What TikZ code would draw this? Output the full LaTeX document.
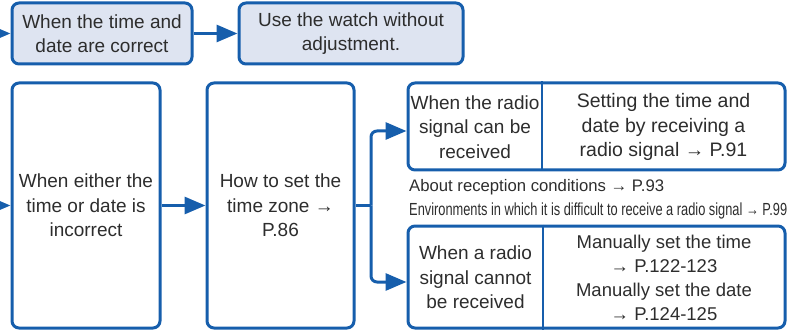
\documentclass[tikz,border=0pt]{standalone}
\usepackage{fontspec}
\setmainfont{Liberation Sans}
\usetikzlibrary{arrows.meta,calc}
\definecolor{bblue}{RGB}{22,94,172}
\definecolor{bfill}{RGB}{222,228,241}
\definecolor{txt}{RGB}{45,45,45}
\begin{document}
\begin{tikzpicture}[x=1pt,y=-1pt,
  box/.style={draw=bblue,line width=3pt,rounded corners=7pt,inner sep=0pt},
  boxtext/.style={text=txt,font=\fontsize{19}{24.5}\selectfont,align=center,inner sep=0pt},
  conn/.style={draw=bblue,line width=3pt,rounded corners=6pt,-{Triangle[length=21pt,width=17pt]}},
  divider/.style={draw=bblue,line width=2.6pt},
  note/.style={text=txt,anchor=west,inner sep=0pt}
]
\useasboundingbox (0,0) rectangle (792,331);

% top row
\node[box,fill=bfill,minimum width=180pt,minimum height=61pt,boxtext] (t1) at (102,33.5) {When the time and\\date are correct};
\node[box,fill=bfill,minimum width=224pt,minimum height=61pt,boxtext] (t2) at (351,33.5) {Use the watch without\\adjustment.};
\coordinate (in1) at (-30,33.5);
\draw[conn] (in1) -- (t1.west);
\draw[conn] (t1.east) -- (t2.west);

% lower row
\node[box,minimum width=148pt,minimum height=245pt,boxtext] (b1) at (86,205.5) {When either the\\time or date is\\incorrect};
\node[box,minimum width=147pt,minimum height=245pt,boxtext] (b2) at (280.5,205.5) {How to set the\\time zone →\\P.86};
\coordinate (in2) at (-30,205.5);
\draw[conn] (in2) -- (b1.west);
\draw[conn] (b1.east) -- (b2.west);

% right boxes
\node[box,minimum width=377pt,minimum height=87pt] (rt) at (596.5,126.5) {};
\node[box,minimum width=377pt,minimum height=102pt] (rb) at (596.5,277) {};
\draw[divider] (542,0 |- rt.north) -- (542,0 |- rt.south);
\draw[divider] (543,0 |- rb.north) -- (543,0 |- rb.south);
\node[boxtext] (rtl) at (475,127) {When the radio\\signal can be\\received};
\node[boxtext,font=\fontsize{19.5}{24.5}\selectfont] (rtr) at (663.5,127) {Setting the time and\\date by receiving a\\radio signal → P.91};
\node[boxtext] (rbl) at (475.5,277.5) {When a radio\\signal cannot\\be received};
\node[boxtext,font=\fontsize{18.5}{24}\selectfont] (rbr) at (664,278) {Manually set the time\\→ P.122-123\\Manually set the date\\→ P.124-125};

% split connector
\coordinate (j) at (371,0 |- b2.east);
\draw[draw=bblue,line width=3pt] (b2.east) -- (j);
\draw[conn] (j) |- ($(rt.west)+(0,4.5)$);
\draw[conn] (j) |- ($(rb.west)+(0,5)$);

% notes
\node[note,font=\fontsize{16.7}{18}\selectfont] (n1) at (409,187) {About reception conditions → P.93};
\node[note,font=\fontsize{17.5}{18}\selectfont] (n2) at (409,211) {\resizebox{378pt}{\height}{Environments in which it is difficult to receive a radio signal → P.99}};
\end{tikzpicture}
\end{document}
